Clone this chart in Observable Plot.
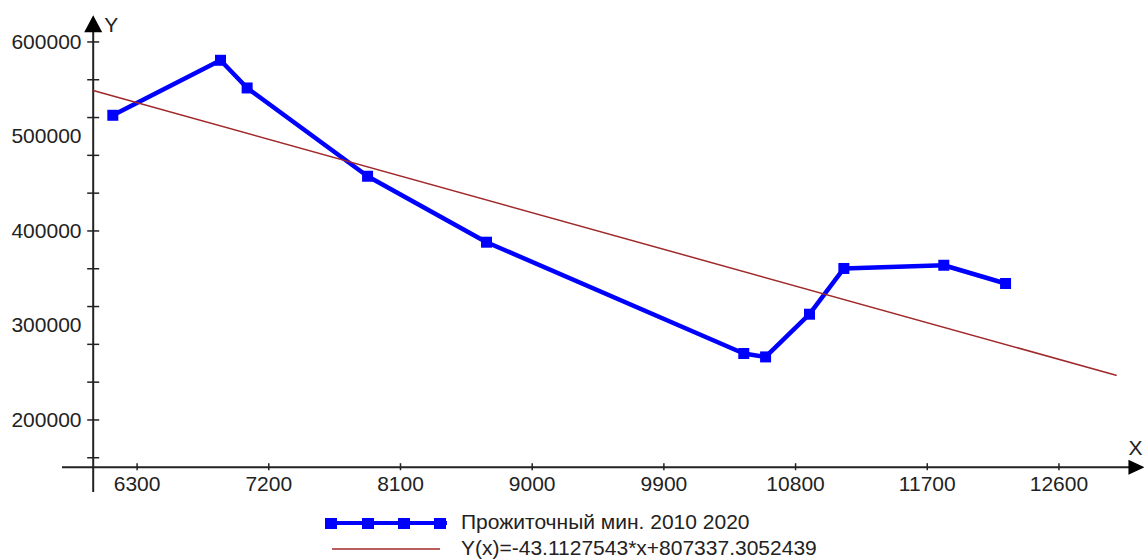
<!DOCTYPE html>
<html><head><meta charset="utf-8">
<script src="https://cdn.jsdelivr.net/npm/d3@7"></script>
<script src="https://cdn.jsdelivr.net/npm/@observablehq/plot@0.6"></script>
<style>
body{margin:0;background:#fff;font-family:"Liberation Sans",Arial,sans-serif;}
#wrap{position:relative;width:1144px;height:560px;overflow:hidden;background:#fff;}
.leg{position:absolute;left:461px;font-size:21px;line-height:24px;height:24px;color:#222;white-space:nowrap;}
.sw{position:absolute;}
</style></head><body><div id="wrap"></div>
<script>
// Series
const xValues = [6134, 6870, 7052, 7875, 8688, 10446, 10595, 10895, 11130, 11813, 12235];
const yValues = [522400, 580600, 551300, 457900, 388100, 270300, 266700, 311900, 360300, 363700, 344400];
const seriesName = "Прожиточный мин. 2010 2020";
// Trend line as stated in the legend
const trendSlope = -43.1127543;
const trendIntercept = 807337.3052439;
const trendLabel = "Y(x)=-43.1127543*x+807337.3052439";
const trendXs = [6000, 12990];
// Axes
const xTickLabels = [6300, 7200, 8100, 9000, 9900, 10800, 11700, 12600];
const yTickLabels = [200000, 300000, 400000, 500000, 600000];
const yTickMarks = [160000, 200000, 240000, 280000, 320000, 360000, 400000, 440000, 480000, 520000, 560000, 600000];
const xOrigin = 6000, yOrigin = 150000;

const data = xValues.map((x, i) => ({x, y: yValues[i]}));
const trend = trendXs.map(x => ({x, y: trendSlope * x + trendIntercept}));

const hTick = {draw(c){c.moveTo(-6,0);c.lineTo(6,0);}};
const vTick = {draw(c){c.moveTo(0,-4);c.lineTo(0,3);}};
const upArrow = {draw(c){c.moveTo(0,0);c.lineTo(-9,17);c.lineTo(9,17);c.closePath();}};
const rightArrow = {draw(c){c.moveTo(0,0);c.lineTo(-16,-7.5);c.lineTo(-16,7.5);c.closePath();}};
const squareSym = {draw(c){c.rect(-5.5,-5.5,11,11);}};
const ink = "#222";

const chart = Plot.plot({
  width: 1144, height: 500,
  marginLeft: 92.7, marginRight: 27, marginTop: 22.55, marginBottom: 33.3,
  x: {domain: [6000, 13000], axis: null},
  y: {domain: [150000, 620000], axis: null},
  style: {fontFamily: '"Liberation Sans", Arial, sans-serif', fontSize: "21px", color: ink, overflow: "visible", background: "#fff"},
  marks: [
    Plot.ruleY([yOrigin], {x1: 5790, x2: 13170, stroke: ink, strokeWidth: 2}),
    Plot.ruleX([xOrigin], {y1: 123200, y2: 622000, stroke: ink, strokeWidth: 2}),
    Plot.dot([0], {x: xOrigin, y: 628200, symbol: upArrow, fill: "#000", stroke: "none"}),
    Plot.dot([0], {x: 13184, y: yOrigin, symbol: rightArrow, fill: "#000", stroke: "none"}),
    Plot.dot(yTickMarks, {x: xOrigin, y: d => d, symbol: hTick, stroke: ink, strokeWidth: 1.5, fill: "none"}),
    Plot.dot(xTickLabels, {x: d => d, y: yOrigin, symbol: vTick, stroke: ink, strokeWidth: 1.5, fill: "none"}),
    Plot.text(yTickLabels, {x: xOrigin, y: d => d, text: d => String(d), textAnchor: "end", dx: -11.7, fill: ink}),
    Plot.text(xTickLabels, {x: d => d, y: yOrigin, text: d => String(d), dy: 17.5, fill: ink}),
    Plot.text(["Y"], {x: xOrigin, y: 600000, text: d => d, dx: 18, dy: -17, fill: ink}),
    Plot.text(["X"], {x: 13184, y: yOrigin, text: d => d, dx: -9, dy: -19, fill: ink}),
    Plot.line(data, {x: "x", y: "y", stroke: "#0000ff", strokeWidth: 4.5}),
    Plot.dot(data, {x: "x", y: "y", symbol: squareSym, fill: "#0000ff", stroke: "none"}),
    Plot.line(trend, {x: "x", y: "y", stroke: "#a0282a", strokeWidth: 1.5})
  ]
});
const wrap = document.getElementById("wrap");
wrap.appendChild(chart);

// Legend below the chart
const sw1 = document.createElementNS("http://www.w3.org/2000/svg", "svg");
sw1.setAttribute("class", "sw"); sw1.setAttribute("width", 130); sw1.setAttribute("height", 20);
sw1.style.left = "320px"; sw1.style.top = "513px";
sw1.innerHTML = '<line x1="5" x2="127" y1="10" y2="10" stroke="#0000ff" stroke-width="4"/>' +
  [11, 48, 84, 120].map(cx => `<rect x="${cx-6}" y="5" width="12" height="11" fill="#0000ff"/>`).join("");
wrap.appendChild(sw1);
const sw2 = document.createElementNS("http://www.w3.org/2000/svg", "svg");
sw2.setAttribute("class", "sw"); sw2.setAttribute("width", 130); sw2.setAttribute("height", 20);
sw2.style.left = "320px"; sw2.style.top = "539px";
sw2.innerHTML = '<line x1="12" x2="120" y1="10" y2="10" stroke="#a0282a" stroke-width="1.5"/>';
wrap.appendChild(sw2);
const t1 = document.createElement("div"); t1.className = "leg"; t1.style.top = "510px"; t1.textContent = seriesName; wrap.appendChild(t1);
const t2 = document.createElement("div"); t2.className = "leg"; t2.style.top = "536px"; t2.textContent = trendLabel; wrap.appendChild(t2);
</script></body></html>
